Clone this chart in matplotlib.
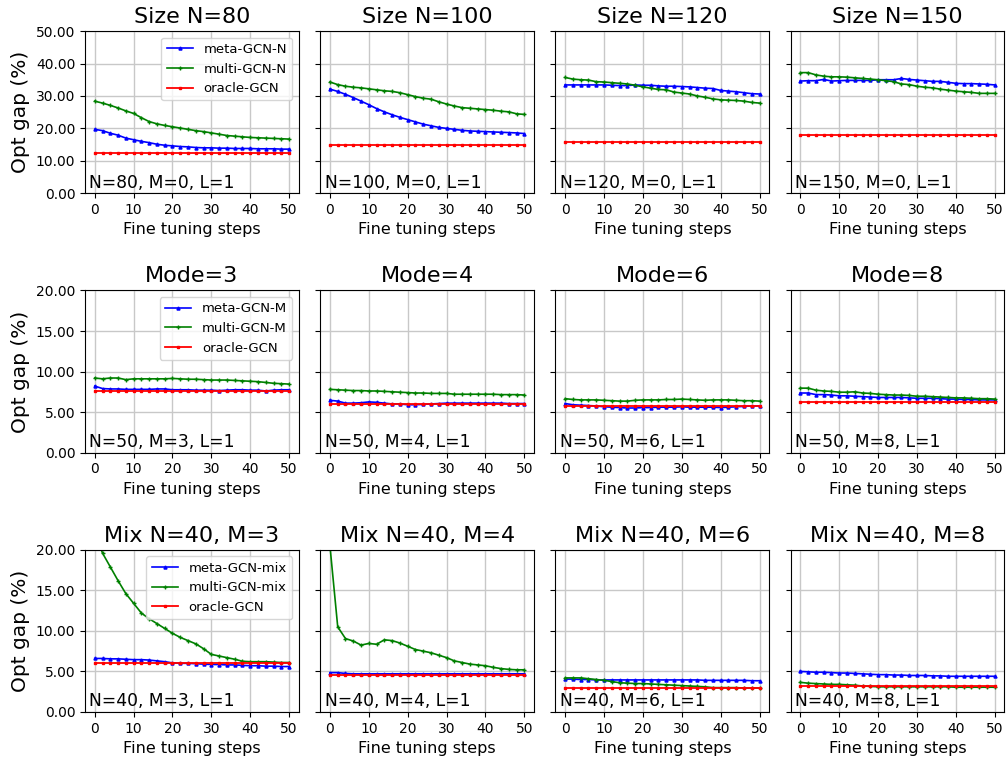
import numpy as np
import matplotlib
matplotlib.use("Agg")
import matplotlib.pyplot as plt
from matplotlib.ticker import FormatStrFormatter

# fine tuning steps (every 2nd step logged)
steps = np.arange(0, 51, 2)

# ---- row 1: graph size ----
meta_n80 = [19.7, 19.3, 18.5, 17.9, 17.0, 16.5, 16.0, 15.6, 15.1, 14.8, 14.6, 14.4, 14.3,
            14.1, 14.0, 14.0, 13.9, 13.9, 13.8, 13.8, 13.8, 13.7, 13.7, 13.7, 13.6, 13.6]
multi_n80 = [28.4, 27.8, 27.1, 26.3, 25.4, 24.6, 23.3, 22.1, 21.4, 20.9, 20.5, 20.1, 19.7,
             19.3, 19.0, 18.6, 18.2, 17.8, 17.6, 17.4, 17.2, 17.1, 17.0, 16.9, 16.8, 16.7]
oracle_n80 = [12.3, 12.3, 12.3, 12.3, 12.3, 12.3, 12.3, 12.3, 12.3, 12.3, 12.3, 12.3, 12.3,
              12.3, 12.3, 12.3, 12.3, 12.3, 12.3, 12.3, 12.3, 12.3, 12.3, 12.3, 12.3, 12.3]

meta_n100 = [32.1, 31.4, 30.5, 29.5, 28.4, 27.3, 26.1, 25.1, 24.2, 23.4, 22.7, 22.0, 21.3,
             20.8, 20.3, 20.0, 19.7, 19.4, 19.2, 19.1, 19.0, 18.9, 18.8, 18.7, 18.6, 18.4]
multi_n100 = [34.3, 33.5, 33.0, 32.7, 32.5, 32.2, 31.9, 31.6, 31.4, 31.0, 30.4, 29.8, 29.3,
              29.0, 28.2, 27.5, 26.9, 26.4, 26.2, 26.0, 25.8, 25.6, 25.3, 25.1, 24.5, 24.3]
oracle_n100 = [14.8, 14.8, 14.8, 14.8, 14.8, 14.8, 14.8, 14.8, 14.8, 14.8, 14.8, 14.8, 14.8,
               14.8, 14.8, 14.8, 14.8, 14.8, 14.8, 14.8, 14.8, 14.8, 14.8, 14.8, 14.8, 14.8]

meta_n120 = [33.4, 33.4, 33.4, 33.4, 33.4, 33.4, 33.3, 33.2, 33.2, 33.4, 33.3, 33.3, 33.1,
             33.0, 33.0, 32.9, 32.8, 32.6, 32.4, 32.3, 31.7, 31.5, 31.3, 31.0, 30.7, 30.6]
multi_n120 = [35.7, 35.2, 35.0, 34.9, 34.4, 34.3, 34.1, 33.9, 33.7, 33.3, 32.8, 32.4, 32.0,
              31.9, 31.2, 30.9, 30.6, 30.0, 29.6, 29.1, 28.8, 28.7, 28.6, 28.4, 28.0, 27.8]
oracle_n120 = [15.9, 15.9, 15.9, 15.9, 15.9, 15.9, 15.9, 15.9, 15.9, 15.9, 15.9, 15.9, 15.9,
               15.9, 15.9, 15.9, 15.9, 15.9, 15.9, 15.9, 15.9, 15.9, 15.9, 15.9, 15.9, 15.9]

meta_n150 = [34.6, 34.7, 34.7, 35.1, 34.6, 34.7, 34.8, 34.8, 34.8, 34.8, 35.0, 35.0, 35.0,
             35.4, 35.1, 34.9, 34.7, 34.5, 34.5, 34.2, 33.9, 33.8, 33.8, 33.7, 33.6, 33.4]
multi_n150 = [37.2, 37.2, 36.5, 36.1, 35.9, 35.9, 35.8, 35.6, 35.4, 35.2, 35.0, 34.7, 34.4,
              33.7, 33.5, 33.0, 32.7, 32.5, 32.1, 31.8, 31.5, 31.3, 31.1, 30.8, 30.8, 30.8]
oracle_n150 = [17.9, 17.9, 17.9, 17.9, 17.9, 17.9, 17.9, 17.9, 17.9, 17.9, 17.9, 17.9, 17.9,
               17.9, 17.9, 17.9, 17.9, 17.9, 17.9, 17.9, 17.9, 17.9, 17.9, 17.9, 17.9, 17.9]

# ---- row 2: number of modes ----
meta_m3 = [8.2, 7.9, 7.85, 7.85, 7.8, 7.8, 7.8, 7.8, 7.85, 7.85, 7.75, 7.75, 7.75,
           7.7, 7.7, 7.7, 7.65, 7.7, 7.75, 7.75, 7.7, 7.7, 7.6, 7.7, 7.75, 7.75]
multi_m3 = [9.2, 9.1, 9.2, 9.2, 9.0, 9.1, 9.1, 9.1, 9.1, 9.1, 9.15, 9.1, 9.05,
            9.05, 9.0, 8.95, 8.95, 8.95, 8.9, 8.85, 8.8, 8.75, 8.65, 8.55, 8.5, 8.45]
oracle_m3 = [7.65, 7.65, 7.65, 7.65, 7.65, 7.65, 7.65, 7.65, 7.65, 7.65, 7.65, 7.65, 7.65,
             7.65, 7.65, 7.65, 7.65, 7.65, 7.65, 7.65, 7.65, 7.65, 7.65, 7.65, 7.65, 7.65]

meta_m4 = [6.45, 6.35, 6.1, 6.1, 6.15, 6.25, 6.2, 6.1, 6.0, 6.0, 5.9, 5.9, 5.95,
           6.0, 6.05, 6.1, 6.1, 6.1, 6.1, 6.1, 6.1, 6.1, 6.1, 6.05, 6.05, 6.05]
multi_m4 = [7.8, 7.75, 7.7, 7.65, 7.65, 7.6, 7.6, 7.55, 7.5, 7.45, 7.4, 7.35, 7.35,
            7.3, 7.3, 7.3, 7.2, 7.2, 7.2, 7.2, 7.2, 7.2, 7.15, 7.15, 7.15, 7.1]
oracle_m4 = [6.05, 6.05, 6.05, 6.05, 6.05, 6.05, 6.05, 6.05, 6.05, 6.05, 6.05, 6.05, 6.05,
             6.05, 6.05, 6.05, 6.05, 6.05, 6.05, 6.05, 6.05, 6.05, 6.05, 6.05, 6.05, 6.05]

meta_m6 = [6.05, 5.9, 5.85, 5.8, 5.75, 5.65, 5.6, 5.55, 5.5, 5.5, 5.55, 5.55, 5.6,
           5.6, 5.6, 5.65, 5.6, 5.6, 5.6, 5.6, 5.55, 5.6, 5.65, 5.7, 5.75, 5.75]
multi_m6 = [6.65, 6.55, 6.5, 6.5, 6.5, 6.45, 6.4, 6.35, 6.35, 6.45, 6.5, 6.5, 6.5,
            6.55, 6.55, 6.6, 6.55, 6.5, 6.45, 6.5, 6.5, 6.5, 6.45, 6.4, 6.4, 6.35]
oracle_m6 = [5.7, 5.7, 5.7, 5.7, 5.7, 5.7, 5.7, 5.7, 5.7, 5.7, 5.7, 5.7, 5.7,
             5.7, 5.7, 5.7, 5.7, 5.7, 5.7, 5.7, 5.7, 5.7, 5.7, 5.7, 5.7, 5.7]

meta_m8 = [7.35, 7.35, 7.15, 7.15, 7.1, 7.0, 7.0, 6.95, 6.9, 6.85, 6.8, 6.8, 6.8,
           6.8, 6.75, 6.7, 6.7, 6.7, 6.65, 6.6, 6.6, 6.55, 6.55, 6.5, 6.5, 6.5]
multi_m8 = [7.95, 7.95, 7.7, 7.6, 7.55, 7.45, 7.45, 7.5, 7.35, 7.3, 7.2, 7.15, 7.1,
            7.1, 7.05, 6.95, 6.95, 6.9, 6.85, 6.8, 6.75, 6.75, 6.7, 6.65, 6.65, 6.6]
oracle_m8 = [6.2, 6.2, 6.2, 6.2, 6.2, 6.2, 6.2, 6.2, 6.2, 6.2, 6.2, 6.2, 6.2,
             6.2, 6.2, 6.2, 6.2, 6.2, 6.2, 6.2, 6.2, 6.2, 6.2, 6.2, 6.2, 6.2]

# ---- row 3: mixed size / modes ----
meta_mix3 = [6.6, 6.6, 6.55, 6.55, 6.5, 6.45, 6.45, 6.4, 6.3, 6.2, 6.05, 6.0, 6.0,
             5.95, 5.9, 5.85, 5.85, 5.8, 5.8, 5.75, 5.7, 5.7, 5.65, 5.65, 5.6, 5.6]
multi_mix3 = [22.3, 19.6, 17.9, 16.2, 14.6, 13.4, 12.2, 11.5, 10.9, 10.3, 9.7, 9.2, 8.8,
              8.4, 7.8, 7.1, 6.9, 6.7, 6.5, 6.25, 6.2, 6.2, 6.2, 6.15, 6.1, 6.1]
oracle_mix3 = [6.0, 6.0, 6.0, 6.0, 6.0, 6.0, 6.0, 6.0, 6.0, 6.0, 6.0, 6.0, 6.0,
               6.0, 6.0, 6.0, 6.0, 6.0, 6.0, 6.0, 6.0, 6.0, 6.0, 6.0, 6.0, 6.0]

meta_mix4 = [4.85, 4.85, 4.75, 4.7, 4.7, 4.7, 4.7, 4.7, 4.7, 4.7, 4.7, 4.7, 4.7,
             4.7, 4.7, 4.7, 4.7, 4.7, 4.7, 4.7, 4.7, 4.7, 4.7, 4.7, 4.7, 4.7]
multi_mix4 = [20.5, 10.5, 9.05, 8.75, 8.25, 8.45, 8.35, 8.9, 8.8, 8.5, 8.1, 7.7, 7.5,
              7.3, 7.0, 6.7, 6.3, 6.1, 5.9, 5.8, 5.7, 5.5, 5.35, 5.25, 5.2, 5.2]
oracle_mix4 = [4.5, 4.5, 4.5, 4.5, 4.5, 4.5, 4.5, 4.5, 4.5, 4.5, 4.5, 4.5, 4.5,
               4.5, 4.5, 4.5, 4.5, 4.5, 4.5, 4.5, 4.5, 4.5, 4.5, 4.5, 4.5, 4.5]

meta_mix6 = [4.05, 4.05, 4.0, 4.0, 3.95, 3.95, 3.95, 3.95, 3.95, 3.95, 3.95, 3.95, 3.95,
             3.95, 3.95, 3.95, 3.95, 3.95, 3.9, 3.9, 3.9, 3.9, 3.9, 3.9, 3.85, 3.85]
multi_mix6 = [4.2, 4.2, 4.2, 4.1, 4.0, 3.9, 3.75, 3.6, 3.55, 3.5, 3.5, 3.45, 3.4,
              3.35, 3.3, 3.25, 3.2, 3.15, 3.1, 3.0, 3.0, 3.0, 3.0, 2.95, 2.95, 2.95]
oracle_mix6 = [3.0, 3.0, 3.0, 3.0, 3.0, 3.0, 3.0, 3.0, 3.0, 3.0, 3.0, 3.0, 3.0,
               3.0, 3.0, 3.0, 3.0, 3.0, 3.0, 3.0, 3.0, 3.0, 3.0, 3.0, 3.0, 3.0]

meta_mix8 = [5.0, 4.95, 4.9, 4.9, 4.85, 4.8, 4.8, 4.75, 4.7, 4.65, 4.6, 4.6, 4.55,
             4.55, 4.5, 4.5, 4.5, 4.45, 4.45, 4.4, 4.4, 4.4, 4.4, 4.4, 4.4, 4.4]
multi_mix8 = [3.65, 3.55, 3.5, 3.45, 3.4, 3.4, 3.35, 3.3, 3.2, 3.15, 3.1, 3.1, 3.1,
              3.1, 3.1, 3.1, 3.1, 3.1, 3.1, 3.1, 3.05, 3.05, 3.05, 3.05, 3.05, 3.05]
oracle_mix8 = [3.2, 3.2, 3.2, 3.2, 3.2, 3.2, 3.2, 3.2, 3.2, 3.2, 3.2, 3.2, 3.2,
               3.2, 3.2, 3.2, 3.2, 3.2, 3.2, 3.2, 3.2, 3.2, 3.2, 3.2, 3.2, 3.2]

titles = [["Size N=80", "Size N=100", "Size N=120", "Size N=150"],
          ["Mode=3", "Mode=4", "Mode=6", "Mode=8"],
          ["Mix N=40, M=3", "Mix N=40, M=4", "Mix N=40, M=6", "Mix N=40, M=8"]]
notes = [["N=80, M=0, L=1", "N=100, M=0, L=1", "N=120, M=0, L=1", "N=150, M=0, L=1"],
         ["N=50, M=3, L=1", "N=50, M=4, L=1", "N=50, M=6, L=1", "N=50, M=8, L=1"],
         ["N=40, M=3, L=1", "N=40, M=4, L=1", "N=40, M=6, L=1", "N=40, M=8, L=1"]]
series = [[(meta_n80, multi_n80, oracle_n80), (meta_n100, multi_n100, oracle_n100),
           (meta_n120, multi_n120, oracle_n120), (meta_n150, multi_n150, oracle_n150)],
          [(meta_m3, multi_m3, oracle_m3), (meta_m4, multi_m4, oracle_m4),
           (meta_m6, multi_m6, oracle_m6), (meta_m8, multi_m8, oracle_m8)],
          [(meta_mix3, multi_mix3, oracle_mix3), (meta_mix4, multi_mix4, oracle_mix4),
           (meta_mix6, multi_mix6, oracle_mix6), (meta_mix8, multi_mix8, oracle_mix8)]]
row_labels = [("meta-GCN-N", "multi-GCN-N"),
              ("meta-GCN-M", "multi-GCN-M"),
              ("meta-GCN-mix", "multi-GCN-mix")]
row_ylim = [50, 20, 20]
row_yticks = [[0, 10, 20, 30, 40, 50], [0, 5, 10, 15, 20], [0, 5, 10, 15, 20]]

fig, axes = plt.subplots(3, 4, figsize=(10.06, 7.59), dpi=100, sharey="row")
fig.subplots_adjust(left=0.0845, right=0.9985, top=0.959, bottom=0.062,
                    wspace=0.1, hspace=0.6)

for r in range(3):
    for c in range(4):
        ax = axes[r, c]
        meta, multi, oracle = series[r][c]
        ax.plot(steps, meta, color="blue", marker="^", markersize=2.2,
                linewidth=1.2, label=row_labels[r][0])
        ax.plot(steps, multi, color="green", marker="+", markersize=3,
                linewidth=1.2, label=row_labels[r][1])
        ax.plot(steps, oracle, color="red", marker="s", markersize=1.8,
                linewidth=1.3, label="oracle-GCN")

        ax.set_title(titles[r][c], fontsize=16)
        ax.set_xlabel("Fine tuning steps", fontsize=11.5)
        ax.text(0.02, 0.01, notes[r][c], transform=ax.transAxes,
                fontsize=12.3, ha="left", va="bottom")
        ax.set_ylim(0, row_ylim[r])
        ax.set_yticks(row_yticks[r])
        ax.set_xticks([0, 10, 20, 30, 40, 50])
        ax.tick_params(labelsize=10)
        ax.grid(True, color="#c8c8c8", linewidth=1.0)
        ax.set_axisbelow(True)
        if c == 0:
            ax.yaxis.set_major_formatter(FormatStrFormatter("%.2f"))
            ax.set_ylabel("Opt gap (%)", fontsize=14.5)
            ax.legend(loc="upper right", fontsize=9.5)
        else:
            ax.tick_params(labelleft=False)

fig.savefig("out.png", dpi=100)
